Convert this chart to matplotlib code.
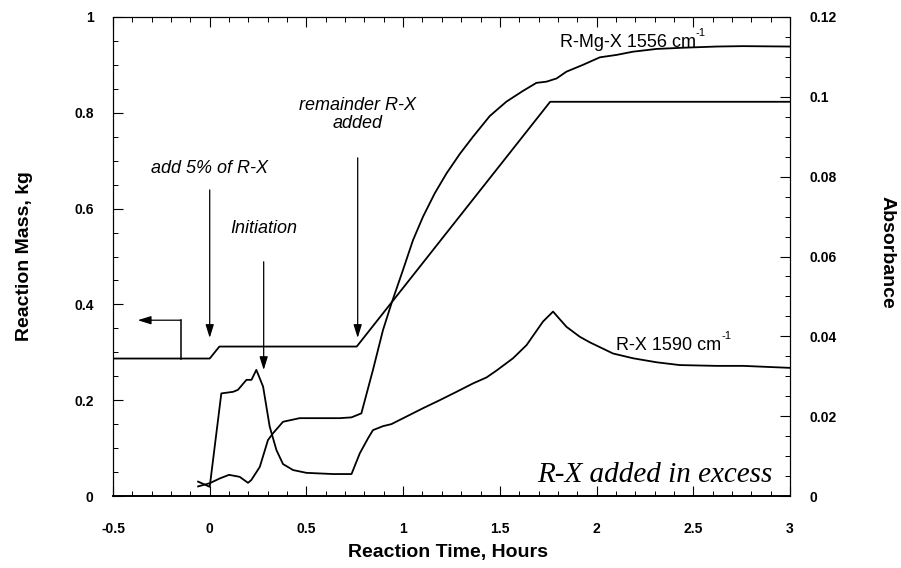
import numpy as np
import matplotlib
matplotlib.use('Agg')
import matplotlib.pyplot as plt
from matplotlib.ticker import MultipleLocator, FormatStrFormatter

# ==========================================
# 1. DATA
# ==========================================
# Reaction mass (left axis, kg)
mass_time = [-0.5, 0.0, 0.05, 0.76, 1.76, 3.0]
mass_kg = [0.287, 0.287, 0.312, 0.312, 0.823, 0.823]

# R-Mg-X 1556 cm-1 absorbance (right axis)
rmgx_time = [-0.06, 0.0, 0.052, 0.10, 0.155, 0.198, 0.215, 0.259, 0.301, 0.327,
             0.379, 0.465, 0.672, 0.733, 0.784, 0.844, 0.896, 0.940, 0.999, 1.051,
             1.103, 1.163, 1.224, 1.293, 1.361, 1.448, 1.534, 1.620, 1.689, 1.741,
             1.793, 1.844, 1.929, 2.017, 2.103, 2.187, 2.310, 2.446, 2.620, 2.756, 3.0]
rmgx_abs = [0.0024, 0.0032, 0.0044, 0.0053, 0.0048, 0.0033, 0.0040, 0.0073, 0.0140, 0.0157,
            0.0186, 0.0195, 0.0195, 0.0197, 0.0207, 0.0316, 0.0416, 0.0483, 0.0566, 0.0641,
            0.0700, 0.0758, 0.0808, 0.0857, 0.0900, 0.0952, 0.0988, 0.1015, 0.1035, 0.1038,
            0.1046, 0.1063, 0.1080, 0.1099, 0.1105, 0.1113, 0.1120, 0.1123, 0.1126, 0.1127, 0.1126]

# R-X 1590 cm-1 absorbance (right axis)
rx_time = [-0.06, 0.0, 0.060, 0.121, 0.146, 0.190, 0.216, 0.241, 0.276, 0.310,
           0.345, 0.379, 0.431, 0.500, 0.638, 0.733, 0.776, 0.819, 0.844, 0.896,
           0.939, 1.017, 1.103, 1.189, 1.276, 1.361, 1.431, 1.482, 1.568, 1.638,
           1.723, 1.775, 1.844, 1.913, 1.965, 2.085, 2.189, 2.310, 2.430, 2.620, 2.757, 3.0]
rx_abs = [0.0036, 0.0023, 0.0257, 0.0261, 0.0266, 0.0291, 0.0291, 0.0316, 0.0274, 0.0174,
          0.0115, 0.0080, 0.0065, 0.0058, 0.0055, 0.0055, 0.0107, 0.0145, 0.0165, 0.0175,
          0.0180, 0.0199, 0.0220, 0.0240, 0.0261, 0.0282, 0.0297, 0.0314, 0.0345, 0.0378,
          0.0437, 0.0462, 0.0424, 0.0399, 0.0385, 0.0357, 0.0345, 0.0335, 0.0328, 0.0326, 0.0326, 0.0321]

# Annotation arrows (time, top, bottom) on the mass axis
arrow_labels = ['add 5% of R-X', 'Initiation', 'remainder R-X\nadded']
arrow_x = [0.0, 0.279, 0.765]
arrow_top = [0.639, 0.489, 0.706]
arrow_tip = [0.330, 0.263, 0.330]
label_y = [0.665, 0.540, 0.760]

# ==========================================
# 2. STYLE
# ==========================================
plt.rcParams['font.family'] = ['Liberation Sans', 'DejaVu Sans']
plt.rcParams['axes.unicode_minus'] = False

fig = plt.figure(figsize=(9.01, 5.68), dpi=100)
ax = fig.add_axes([113 / 901, 72 / 568, 677 / 901, 479 / 568])
ax2 = ax.twinx()

lw = 1.3

# ==========================================
# 3. CURVES
# ==========================================
ax.plot(mass_time, mass_kg, color='black', lw=lw)
ax2.plot(rmgx_time, rmgx_abs, color='black', lw=lw)
ax2.plot(rx_time, rx_abs, color='black', lw=lw)

# ==========================================
# 4. AXES
# ==========================================
ax.set_xlim(-0.5, 3)
ax.set_ylim(0, 1)
ax2.set_ylim(0, 0.12)

ax.xaxis.set_major_locator(MultipleLocator(0.5))
ax.xaxis.set_minor_locator(MultipleLocator(0.1))
ax.yaxis.set_major_locator(MultipleLocator(0.2))
ax.yaxis.set_minor_locator(MultipleLocator(0.05))
ax2.yaxis.set_major_locator(MultipleLocator(0.02))
ax2.yaxis.set_minor_locator(MultipleLocator(0.005))
for a in (ax.xaxis, ax.yaxis, ax2.yaxis):
    a.set_major_formatter(FormatStrFormatter('%g'))

ax.tick_params(axis='x', which='both', direction='in', top=True, labelsize=10, pad=19)
ax.tick_params(axis='y', which='both', direction='in', right=False, labelsize=10, pad=14)
ax2.tick_params(axis='y', which='both', direction='in', labelsize=10, pad=14)
for a in (ax, ax2):
    a.tick_params(which='major', length=7, width=0.8)
    a.tick_params(which='minor', length=3.5, width=0.7)
for lab in ax.get_xticklabels() + ax.get_yticklabels() + ax2.get_yticklabels():
    lab.set_fontweight('bold')

for a in (ax, ax2):
    for side in ('top', 'left', 'right'):
        a.spines[side].set_linestyle((0, (1, 1)))
        a.spines[side].set_linewidth(0.8)
    a.spines['bottom'].set_linewidth(1.2)

fig.text(25 / 901, 1 - 256 / 568, 'Reaction Mass, kg', rotation=90, ha='center', va='center',
         fontsize=14, fontweight='bold')
fig.text(887 / 901, 1 - 252 / 568, 'Absorbance', rotation=-90, ha='center', va='center',
         fontsize=14, fontweight='bold')
fig.text(448 / 901, 1 - 552 / 568, 'Reaction Time, Hours', ha='center', va='center',
         fontsize=14, fontweight='bold')

# ==========================================
# 5. ANNOTATIONS
# ==========================================
arrow_style = dict(arrowstyle='-|>,head_length=0.8,head_width=0.25', color='black',
                   lw=0.9, shrinkA=0, shrinkB=0)
for lab, x, y0, y1, ty in zip(arrow_labels, arrow_x, arrow_top, arrow_tip, label_y):
    ax.annotate('', xy=(x, y1), xytext=(x, y0), arrowprops=arrow_style)
    ax.text(x, ty, lab, ha='center', va='bottom', fontsize=13, style='italic',
            linespacing=1.1)

# bent arrow pointing to the left (mass) axis
ax.plot([-0.15, -0.15], [0.287, 0.367], color='black', lw=1.1)
ax.annotate('', xy=(-0.372, 0.367), xytext=(-0.15, 0.367), arrowprops=arrow_style)

# band labels with a small "-1" superscript
for x, y, lab in [(1.81, 0.1137, 'R-Mg-X 1556 cm'), (2.10, 0.0378, 'R-X 1590 cm')]:
    t = ax2.text(x, y, lab, ha='left', va='center', fontsize=13)
    ax2.annotate('-1', xy=(1, 0.72), xycoords=t, ha='left', va='bottom', fontsize=8)

ax.text(2.91, 0.029, 'R-X added in excess', ha='right', va='baseline', fontsize=21,
        family='Liberation Serif', style='italic')

fig.savefig('out.png', dpi=100)
